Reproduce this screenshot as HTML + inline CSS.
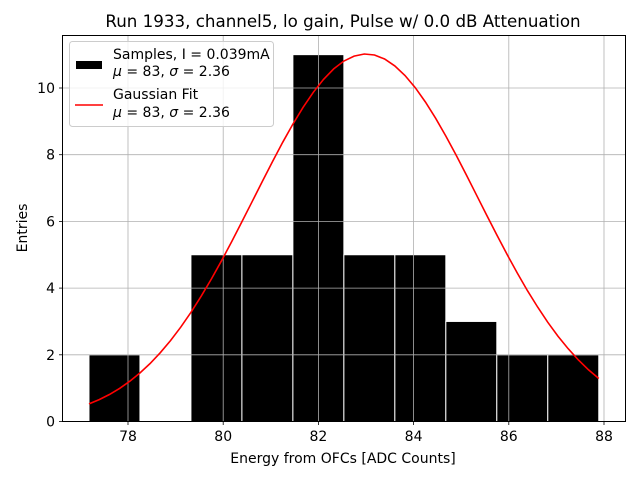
<!DOCTYPE html>
<html><head><meta charset="utf-8"><style>
body{margin:0;background:#fff;font-family:"DejaVu Sans","Liberation Sans",sans-serif;}
svg text{font-family:"DejaVu Sans","Liberation Sans",sans-serif;}
</style></head><body>
<svg id="chart" width="640" height="480">
<rect width="640" height="480" fill="#fff"/>
<g id="bars"></g>
<g id="grid"></g>
<polyline id="fit" fill="none" stroke="red" stroke-width="1.6"/>
<rect x="62.5" y="35.5" width="563" height="386" fill="none" stroke="#000" stroke-width="1"/>
<g id="ticks" font-size="14"></g>
<text x="343" y="27" text-anchor="middle" font-size="16.7">Run 1933, channel5, lo gain, Pulse w/ 0.0 dB Attenuation</text>
<text x="343" y="463" text-anchor="middle" font-size="14">Energy from OFCs [ADC Counts]</text>
<text transform="translate(27,228) rotate(-90)" text-anchor="middle" font-size="14">Entries</text>
<g>
<rect x="69.5" y="41.5" width="204" height="85" rx="3" fill="#fff" fill-opacity="0.8" stroke="#ccc"/>
<g>
<rect x="76" y="61" width="26" height="8" fill="#000"/>
<text x="113" y="59" font-size="14">Samples, I = 0.039mA</text>
<text x="113" y="76" font-size="14"><tspan font-style="italic">μ</tspan> = 83, <tspan font-style="italic">σ</tspan> = 2.36</text>
</g>
<g>
<line x1="75" y1="105" x2="103" y2="105" stroke="red" stroke-width="1.6"/>
<text x="113" y="99" font-size="14">Gaussian Fit</text>
<text x="113" y="117" font-size="14"><tspan font-style="italic">μ</tspan> = 83, <tspan font-style="italic">σ</tspan> = 2.36</text>
</g>
</g>
</svg>
<script>
const binEdgeStart = 77.18;
const binWidth = 1.071;
const counts = [2,0,5,5,11,5,5,3,2,2];
const xTicks = [78,80,82,84,86,88];
const yTicks = [0,2,4,6,8,10];
const fitAmp = [11.02];
const fitMu = [83];
const fitSigma = [2.36];
const NS='http://www.w3.org/2000/svg';
const X=v=>128+(v-78)*47.6;
const Y=v=>421.5-v*33.35;
const bars=document.getElementById('bars');
counts.forEach((c,i)=>{
  if(c<=0) return;
  const r=document.createElementNS(NS,'rect');
  const a=X(binEdgeStart+i*binWidth), b=X(binEdgeStart+(i+1)*binWidth);
  r.setAttribute('x',a);r.setAttribute('width',b-a);
  r.setAttribute('y',Y(c));r.setAttribute('height',Y(0)-Y(c));
  r.setAttribute('fill','#000');r.setAttribute('stroke','#fff');r.setAttribute('stroke-width','1');
  
  
  bars.appendChild(r);
});
const grid=document.getElementById('grid'), ticks=document.getElementById('ticks');
function ln(g,x1,y1,x2,y2,s,w){const l=document.createElementNS(NS,'line');l.setAttribute('x1',x1);l.setAttribute('y1',y1);l.setAttribute('x2',x2);l.setAttribute('y2',y2);l.setAttribute('stroke',s);l.setAttribute('stroke-width',w);g.appendChild(l);return l;}
function tx(x,y,s,anchor){const t=document.createElementNS(NS,'text');t.setAttribute('x',x);t.setAttribute('y',y);t.setAttribute('text-anchor',anchor);t.textContent=s;ticks.appendChild(t);return t;}
xTicks.forEach(v=>{const x=X(v);
  const g=ln(grid,x,35.5,x,421.5,'#b0b0b0',0.8);
  
  
  ln(ticks,x,421.5,x,425,'#000',0.8);
  const t=tx(x,441,v,'middle');
  
  
});
yTicks.forEach(v=>{const y=Y(v);
  const g=ln(grid,62.5,y,625.5,y,'#b0b0b0',0.8);
  
  
  ln(ticks,59,y,62.5,y,'#000',0.8);
  const t=tx(55,y+5,v,'end');
  
  
});
const pts=[];const lo=binEdgeStart, hi=binEdgeStart+counts.length*binWidth;
for(let i=0;i<=50;i++){const v=lo+(hi-lo)*i/50;
  const g=fitAmp[0]*Math.exp(-((v-fitMu[0])**2)/(2*fitSigma[0]**2));
  pts.push(X(v).toFixed(1)+','+Y(g).toFixed(1));}
document.getElementById('fit').setAttribute('points',pts.join(' '));
</script>
</body></html>
